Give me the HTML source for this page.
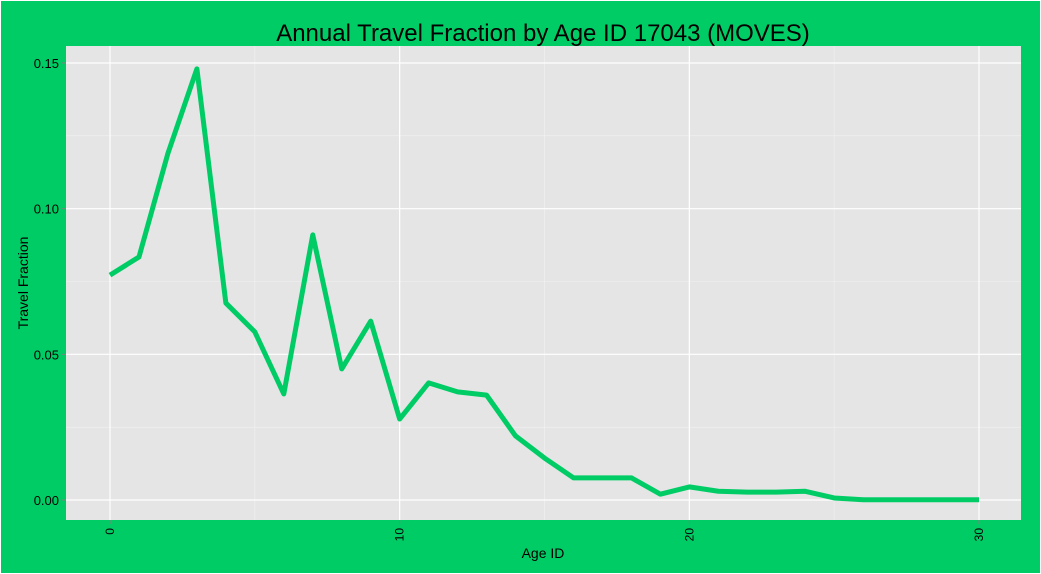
<!DOCTYPE html>
<html><head><meta charset="utf-8"><style>
body{margin:0;background:#fff}
svg{display:block;font-family:"Liberation Sans",sans-serif}
</style></head><body>
<svg width="1041" height="574">
<rect x="1" y="1" width="1039" height="572" fill="#00cc66"/>
<text x="543" y="41" text-anchor="middle" font-size="24" fill="#000">Annual Travel Fraction by Age ID 17043 (MOVES)</text>
<rect x="66" y="46" width="955" height="474" fill="#e5e5e5"/>
<g id="grid"></g>
<g id="axes"></g>
<path id="line" fill="none" stroke="#00cc66" stroke-width="5" stroke-linejoin="round"/>
<text x="543" y="558" text-anchor="middle" font-size="14">Age ID</text>
<text transform="translate(28,283) rotate(-90)" text-anchor="middle" font-size="14">Travel Fraction</text>
</svg>
<script>
const ages=[0,1,2,3,4,5,6,7,8,9,10,11,12,13,14,15,16,17,18,19,20,21,22,23,24,25,26,27,28,29,30];
const fractions=[0.0772,0.0834,0.119,0.148,0.0676,0.0577,0.0364,0.091,0.045,0.0614,0.0278,0.0402,0.0371,0.036,0.022,0.0144,0.0076,0.0076,0.0076,0.002,0.0045,0.003,0.0027,0.0027,0.003,0.0007,0.0001,0.0001,0.0001,0.0001,0.0001];
const xTicks=[0,10,20,30];
const xMinor=[5,15,25];
const yTicks=[0,0.05,0.10,0.15];
const yTickLabels=["0.00","0.05","0.10","0.15"];
const yMinor=[0.025,0.075,0.125];
const X=v=>110+v*(979-110)/30;
const Y=v=>500-v*(500-63)/0.15;
const ns="http://www.w3.org/2000/svg";
const grid=document.getElementById('grid'),axes=document.getElementById('axes');
function mk(p,tag,attrs){const e=document.createElementNS(ns,tag);for(const k in attrs)e.setAttribute(k,attrs[k]);p.appendChild(e);return e;}
xMinor.forEach(v=>{const l=mk(grid,'line',{x1:X(v),x2:X(v),y1:46,y2:520,stroke:'#f2f2f2','stroke-width':0.6});

});
yMinor.forEach(v=>{const l=mk(grid,'line',{x1:66,x2:1021,y1:Y(v),y2:Y(v),stroke:'#f2f2f2','stroke-width':0.6});

});
xTicks.forEach(v=>{const l=mk(grid,'line',{x1:X(v),x2:X(v),y1:46,y2:520,stroke:'#fff','stroke-width':1.2});


const t=mk(axes,'line',{x1:X(v),x2:X(v),y1:520,y2:524,stroke:'#7f7f7f'});


const tx=mk(axes,'text',{transform:`translate(${X(v)+4},528) rotate(-90)`,'text-anchor':'end','font-size':12});
tx.textContent=v;

});
yTicks.forEach((v,i)=>{const l=mk(grid,'line',{x1:66,x2:1021,y1:Y(v),y2:Y(v),stroke:'#fff','stroke-width':1.2});


const t=mk(axes,'line',{x1:62,x2:66,y1:Y(v),y2:Y(v),stroke:'#7f7f7f'});


const tx=mk(axes,'text',{x:59,y:Y(v)+5,'text-anchor':'end','font-size':13});
tx.textContent=yTickLabels[i];

});
document.getElementById('line').setAttribute('d',ages.map((a,i)=>(i?'L':'M')+X(a)+','+Y(fractions[i])).join(''));
</script>
</body></html>
